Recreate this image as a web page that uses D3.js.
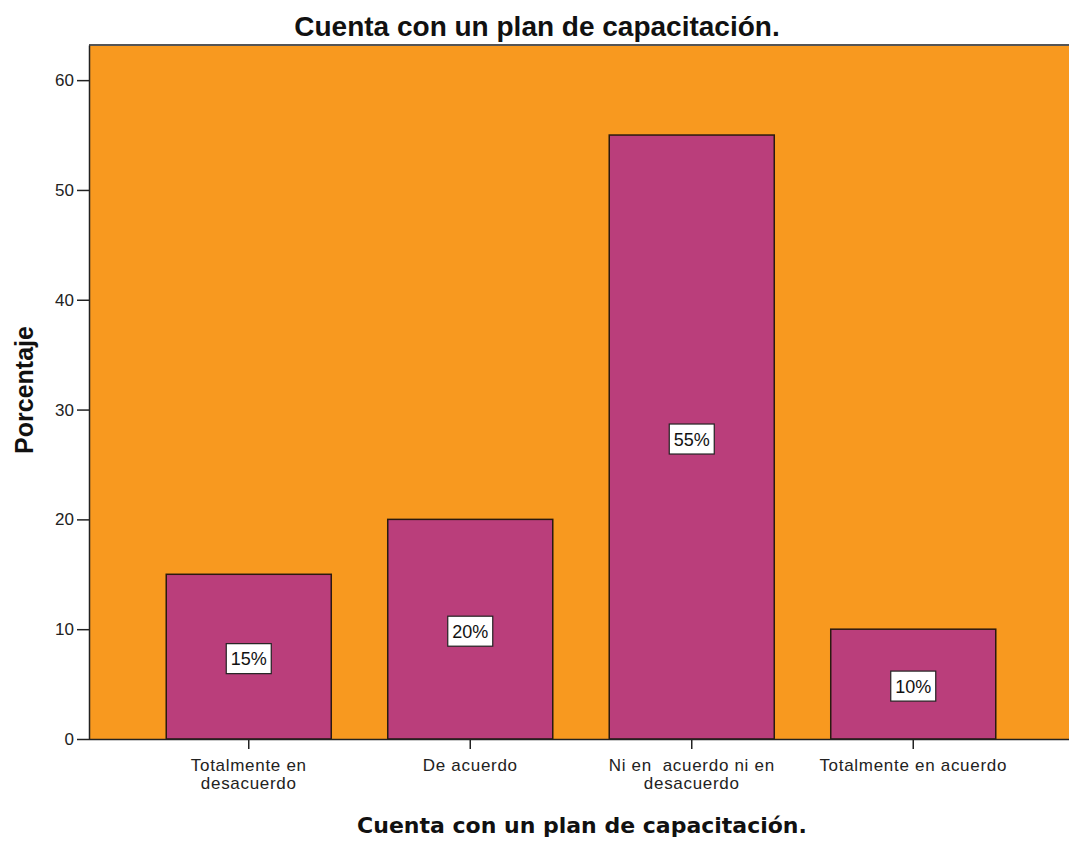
<!DOCTYPE html>
<html>
<head>
<meta charset="utf-8">
<script src="https://cdn.jsdelivr.net/npm/d3@7"></script>
<style>
  html, body { margin: 0; padding: 0; background: #fff; }
  svg { display: block; }
</style>
</head>
<body>
<svg id="chart" width="1069" height="841"></svg>
<script>
// Chart data
const categories = [
  ["Totalmente en", "desacuerdo"],
  ["De acuerdo"],
  ["Ni en  acuerdo ni en", "desacuerdo"],
  ["Totalmente en acuerdo"]
];
const values = [15, 20, 55, 10];
const yTicks = [0, 10, 20, 30, 40, 50, 60];

const title = "Cuenta con un plan de capacitación.";
const xTitle = "Cuenta con un plan de capacitación.";
const yTitle = "Porcentaje";

const W = 1069, H = 841;
const plot = { left: 89, top: 45, right: 1069, bottom: 739 };
const sans = "Liberation Sans, Arial, sans-serif";

const svg = d3.select("#chart");

const x = d3.scaleBand()
  .domain(d3.range(values.length))
  .range([138, 1024])
  .paddingInner(0.255)
  .paddingOuter(0.1275);

const y = d3.scaleLinear()
  .domain([0, 63.2])
  .range([plot.bottom, plot.top]);

// Plot background
svg.append("rect")
  .attr("x", plot.left).attr("y", plot.top)
  .attr("width", plot.right - plot.left)
  .attr("height", plot.bottom - plot.top)
  .attr("fill", "#F8991F");

// Top frame line
svg.append("line")
  .attr("x1", plot.left).attr("x2", plot.right)
  .attr("y1", plot.top).attr("y2", plot.top)
  .attr("stroke", "#555").attr("stroke-width", 2);

// Bars
svg.selectAll("rect.bar")
  .data(values)
  .join("rect")
  .attr("class", "bar")
  .attr("x", (d, i) => x(i))
  .attr("y", d => y(d))
  .attr("width", x.bandwidth())
  .attr("height", d => y(0) - y(d))
  .attr("fill", "#BA3E7B")
  .attr("stroke", "#2a1a10")
  .attr("stroke-width", 1.5);

// Value labels
const lab = svg.selectAll("g.lab")
  .data(values)
  .join("g")
  .attr("class", "lab")
  .attr("transform", (d, i) => `translate(${x(i) + x.bandwidth() / 2},${(y(d) + y(0)) / 2 + 2})`);
lab.append("rect")
  .attr("x", -22.5).attr("y", -15)
  .attr("width", 45).attr("height", 30)
  .attr("fill", "#fff")
  .attr("stroke", "#222").attr("stroke-width", 1.2);
lab.append("text")
  .attr("text-anchor", "middle")
  .attr("dy", "0.36em")
  .attr("font-family", sans)
  .attr("font-size", 18)
  .attr("fill", "#111")
  .text(d => d + "%");

// Y axis
const yAxis = svg.append("g")
  .attr("transform", `translate(${plot.left},0)`)
  .call(d3.axisLeft(y).tickValues(yTicks).tickSize(12).tickPadding(3).tickSizeOuter(0));
yAxis.select(".domain").attr("stroke", "#222").attr("stroke-width", 1.5);
yAxis.selectAll(".tick line").attr("stroke", "#222").attr("stroke-width", 1.5);
yAxis.selectAll(".tick text")
  .attr("font-family", sans)
  .attr("font-size", 17)
  .attr("fill", "#222");

// X axis
const xAxis = svg.append("g")
  .attr("transform", `translate(0,${plot.bottom})`)
  .call(d3.axisBottom(x).tickSize(10).tickSizeOuter(0).tickFormat(""));
xAxis.select(".domain")
  .attr("d", `M${plot.left},0.5H${plot.right}`)
  .attr("stroke", "#222").attr("stroke-width", 1.5);
xAxis.selectAll(".tick line").attr("stroke", "#222").attr("stroke-width", 1.5);
xAxis.selectAll(".tick text").remove();
xAxis.selectAll(".tick").each(function(d) {
  const t = d3.select(this).append("text")
    .attr("text-anchor", "middle")
    .attr("font-family", sans)
    .attr("font-size", 17)
    .attr("letter-spacing", 0.7)
    .style("white-space", "pre")
    .attr("fill", "#222");
  categories[d].forEach((line, k) => {
    t.append("tspan").attr("x", 0).attr("y", 32 + k * 18).text(line);
  });
});

// Titles
svg.append("text")
  .attr("x", 537).attr("y", 36)
  .attr("text-anchor", "middle")
  .attr("font-family", sans)
  .attr("font-weight", "bold")
  .attr("font-size", 28)
  .attr("fill", "#111")
  .text(title);

svg.append("text")
  .attr("x", 582).attr("y", 833)
  .attr("text-anchor", "middle")
  .attr("font-family", "DejaVu Sans, Verdana, sans-serif")
  .attr("font-weight", "bold")
  .attr("font-size", 22)
  .attr("fill", "#111")
  .text(xTitle);

svg.append("text")
  .attr("transform", "translate(33,390) rotate(-90)")
  .attr("text-anchor", "middle")
  .attr("font-family", sans)
  .attr("font-weight", "bold")
  .attr("font-size", 25)
  .attr("fill", "#111")
  .text(yTitle);
</script>
</body>
</html>
